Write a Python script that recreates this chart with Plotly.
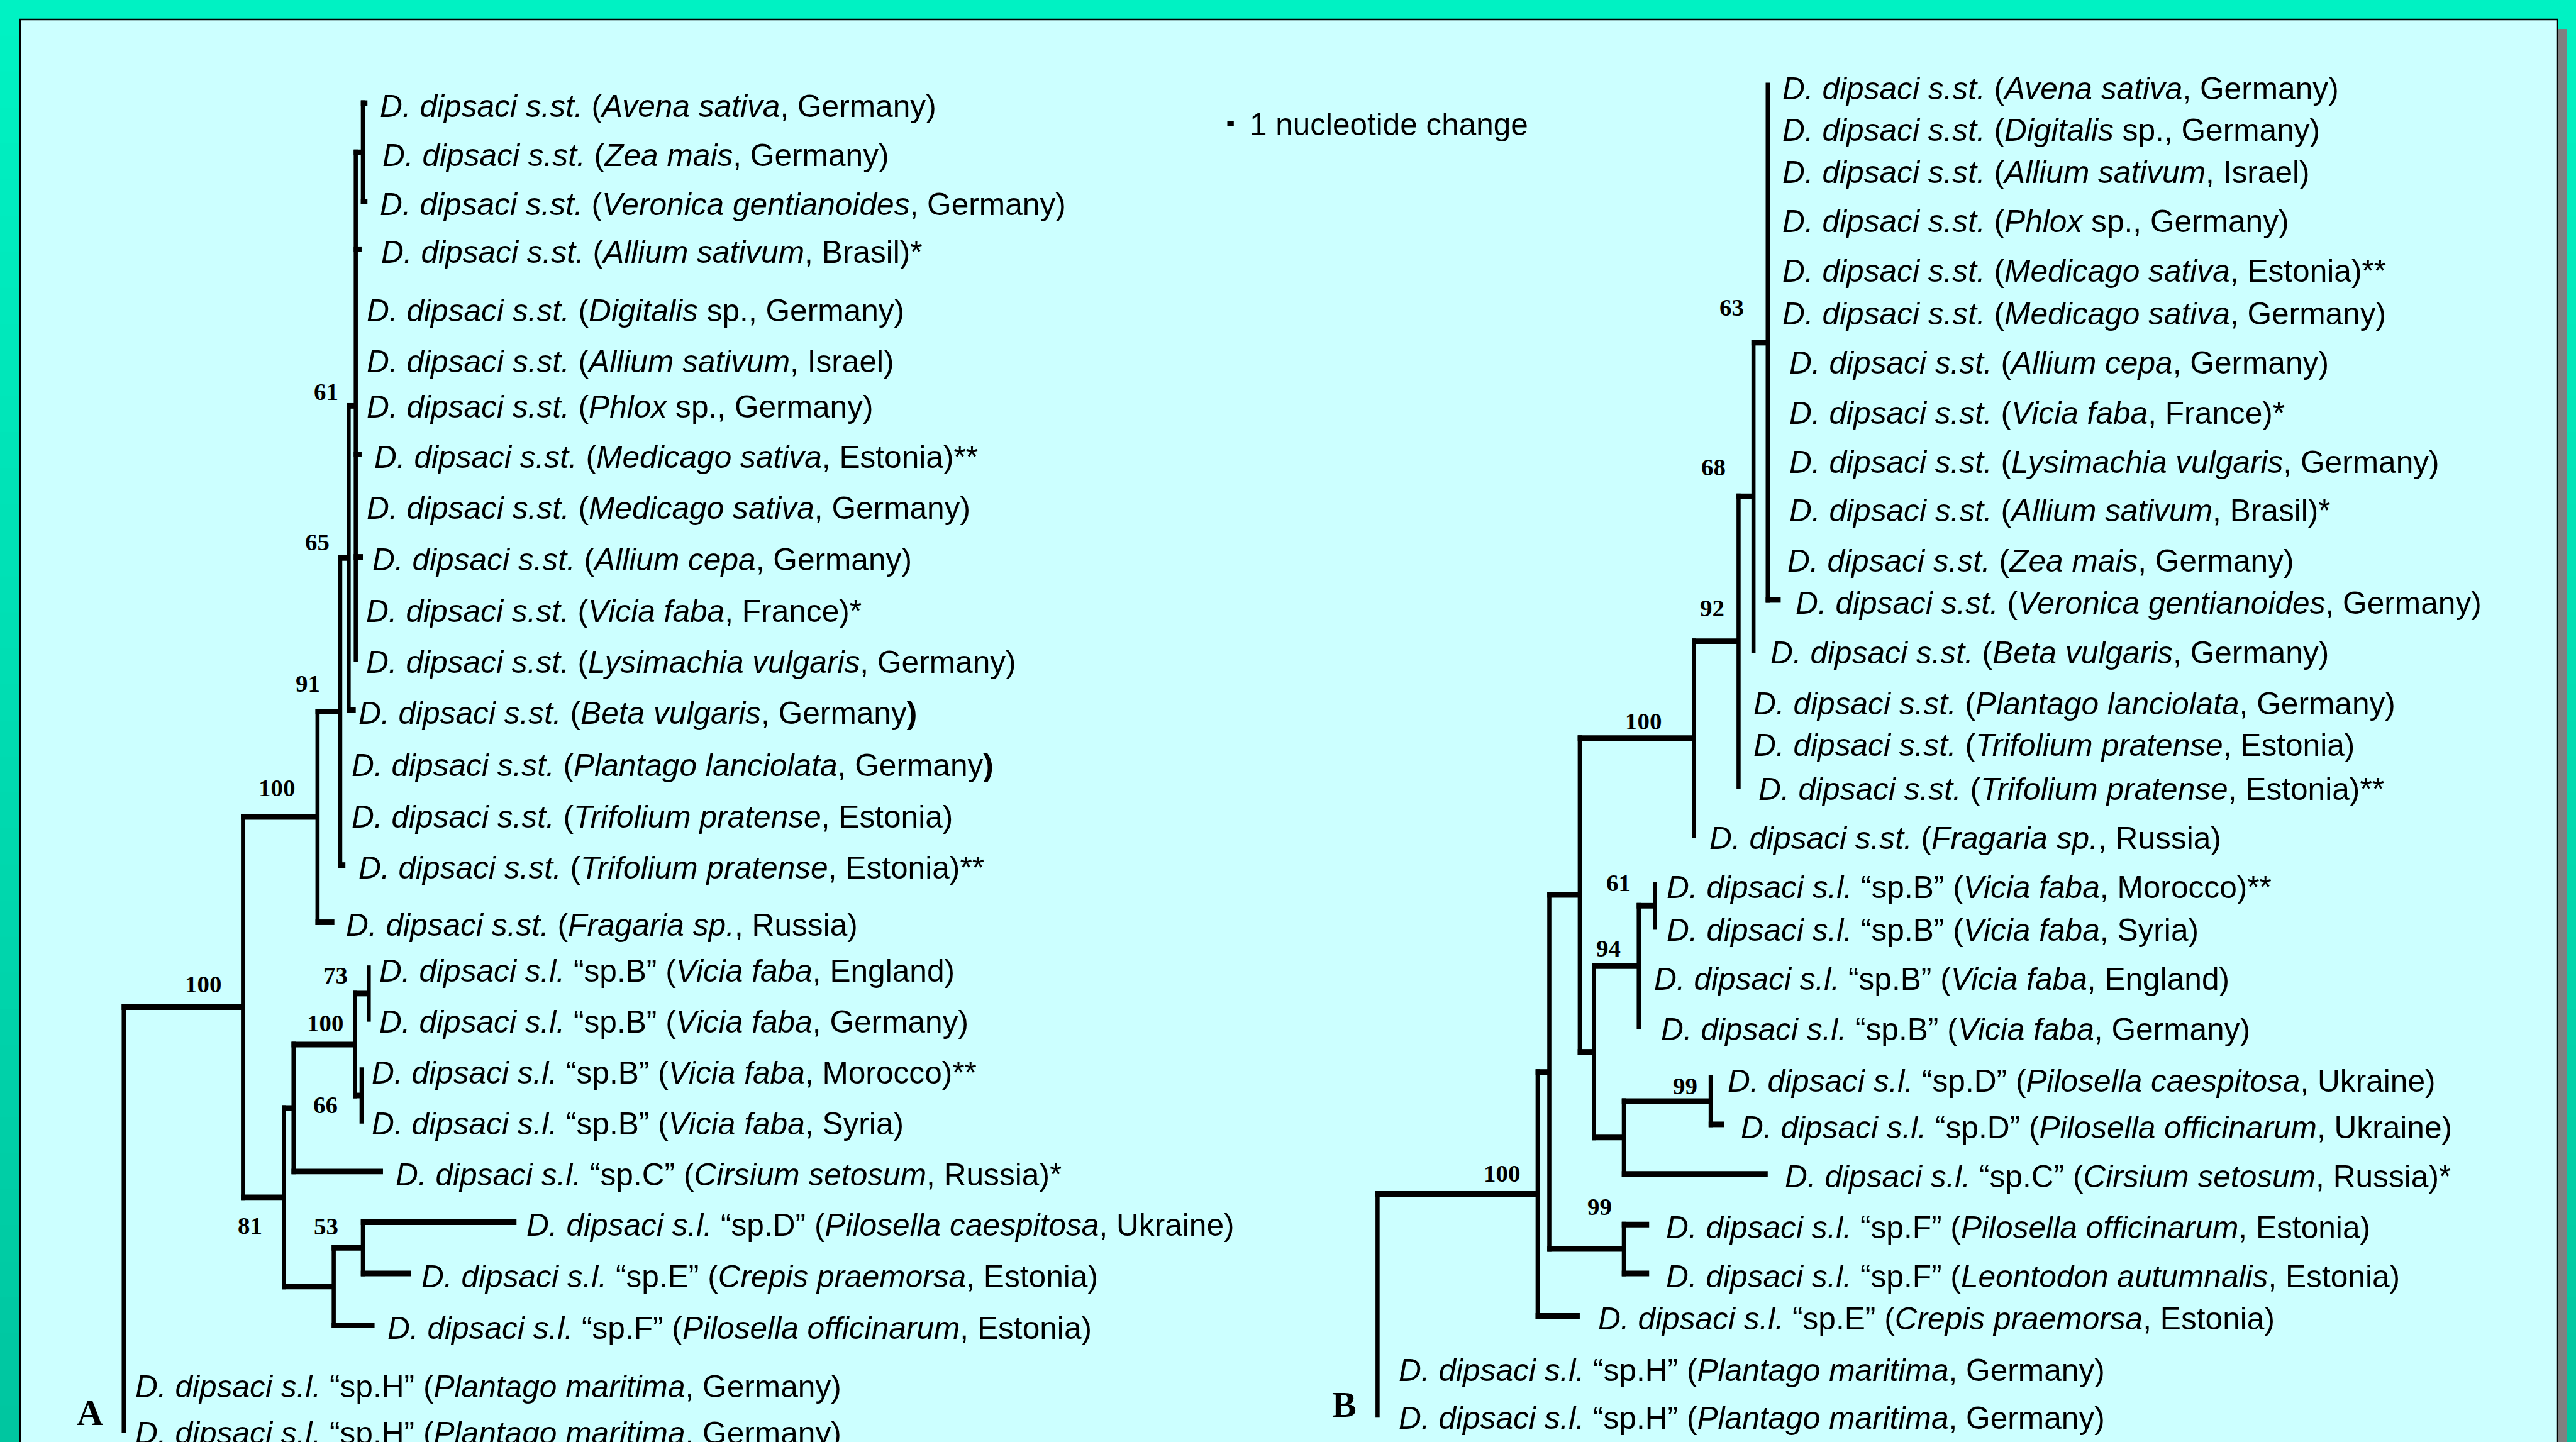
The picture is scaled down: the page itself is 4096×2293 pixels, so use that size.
import plotly.graph_objects as go

# ---------------------------------------------------------------- data
PX_PER_CHANGE = 11.0          # canvas units for one nucleotide change (scale bar)

# ---- Tree A (left panel)
A_group = ["s.st."] * 17 + ["sp.B"] * 4 + ["sp.C", "sp.D", "sp.E", "sp.F", "sp.H", "sp.H"]
A_host = ["<i>Avena sativa</i>", "<i>Zea mais</i>", "<i>Veronica gentianoides</i>",
          "<i>Allium sativum</i>", "<i>Digitalis</i> sp.", "<i>Allium sativum</i>",
          "<i>Phlox</i> sp.", "<i>Medicago sativa</i>", "<i>Medicago sativa</i>",
          "<i>Allium cepa</i>", "<i>Vicia faba</i>", "<i>Lysimachia vulgaris</i>",
          "<i>Beta vulgaris</i>", "<i>Plantago lanciolata</i>", "<i>Trifolium pratense</i>",
          "<i>Trifolium pratense</i>", "<i>Fragaria sp.</i>",
          "<i>Vicia faba</i>", "<i>Vicia faba</i>", "<i>Vicia faba</i>", "<i>Vicia faba</i>",
          "<i>Cirsium setosum</i>", "<i>Pilosella caespitosa</i>", "<i>Crepis praemorsa</i>",
          "<i>Pilosella officinarum</i>", "<i>Plantago maritima</i>", "<i>Plantago maritima</i>"]
A_country = ["Germany", "Germany", "Germany", "Brasil", "Germany", "Israel", "Germany",
             "Estonia", "Germany", "Germany", "France", "Germany", "Germany", "Germany",
             "Estonia", "Estonia", "Russia", "England", "Germany", "Morocco", "Syria",
             "Russia", "Ukraine", "Estonia", "Estonia", "Germany", "Germany"]
A_tail = [")", ")", ")", ")*", ")", ")", ")", ")**", ")", ")", ")*", ")",
          "<b>)</b>", "<b>)</b>", ")", ")**", ")", ")", ")", ")**", ")", ")*",
          ")", ")", ")", ")", ")"]
# terminal branch lengths (nucleotide changes)
A_leaf_branch = [0.7, 0, 0.7, 0.9, 0, 0, 0, 0.9, 0, 1.1, 0, 0, 1.1, 0, 0, 0.8, 2.6,
                 0, 0, 0, 0, 13.8, 23.7, 7.4, 6.3, 0, 0]
# topology: (branch length, bootstrap, children...) ; ints are leaves
A_topology = (0, None,
              (18.4, 100,
               (11.5, 100,
                (3.5, 91,
                 (1.3, 65,
                  (1.1, 61,
                   (1.1, None, 0, 1, 2),
                   3, 4, 5, 6, 7, 8, 9, 10, 11),
                  12),
                 13, 14, 15),
                16),
               (6.3, 81,
                (1.5, None,
                 (9.5, 100, (2.1, 73, 17, 18), (1.0, 66, 19, 20)),
                 21),
                (7.7, None, (4.5, 53, 22, 23), 24))),
              25, 26)

# ---- Tree B (right panel)
B_group = ["s.st."] * 17 + ["sp.B"] * 4 + ["sp.D", "sp.D", "sp.C", "sp.F", "sp.F", "sp.E", "sp.H", "sp.H"]
B_host = ["<i>Avena sativa</i>", "<i>Digitalis</i> sp.", "<i>Allium sativum</i>",
          "<i>Phlox</i> sp.", "<i>Medicago sativa</i>", "<i>Medicago sativa</i>",
          "<i>Allium cepa</i>", "<i>Vicia faba</i>", "<i>Lysimachia vulgaris</i>",
          "<i>Allium sativum</i>", "<i>Zea mais</i>", "<i>Veronica gentianoides</i>",
          "<i>Beta vulgaris</i>", "<i>Plantago lanciolata</i>", "<i>Trifolium pratense</i>",
          "<i>Trifolium pratense</i>", "<i>Fragaria sp.</i>",
          "<i>Vicia faba</i>", "<i>Vicia faba</i>", "<i>Vicia faba</i>", "<i>Vicia faba</i>",
          "<i>Pilosella caespitosa</i>", "<i>Pilosella officinarum</i>", "<i>Cirsium setosum</i>",
          "<i>Pilosella officinarum</i>", "<i>Leontodon autumnalis</i>", "<i>Crepis praemorsa</i>",
          "<i>Plantago maritima</i>", "<i>Plantago maritima</i>"]
B_country = ["Germany", "Germany", "Israel", "Germany", "Estonia", "Germany", "Germany",
             "France", "Germany", "Brasil", "Germany", "Germany", "Germany", "Germany",
             "Estonia", "Estonia", "Russia", "Morocco", "Syria", "England", "Germany",
             "Ukraine", "Ukraine", "Russia", "Estonia", "Estonia", "Estonia", "Germany", "Germany"]
B_tail = [")", ")", ")", ")", ")**", ")", ")", ")*", ")", ")*", ")", ")",
          ")", ")", ")", ")**", ")", ")**", ")", ")", ")", ")", ")", ")*",
          ")", ")", ")", ")", ")"]
B_leaf_branch = [0, 0, 0, 0, 0, 0, 0, 0, 0, 0, 0, 2.0, 0, 0, 0, 0, 0,
                 0, 0, 0, 0, 0, 2.1, 22.2, 3.9, 3.9, 6.5, 0, 0]
B_topology = (0, None,
              (24.7, 100,
               (1.8, None,
                (4.7, None,
                 (17.6, 100,
                  (6.9, 92,
                   (2.3, 68,
                    (2.2, 63, 0, 1, 2, 3, 4, 5, 6, 7, 8, 9, 10, 11),
                    12),
                   13, 14, 15),
                  16),
                 (2.2, None,
                  (6.9, 94, (2.5, 61, 17, 18), 19, 20),
                  (4.6, None, (13.4, 99, 21, 22), 23))),
                (11.5, 99, 24, 25)),
               26),
              27, 28)

SCALE_TEXT = "1 nucleotide change"

# ---------------------------------------------------------------- layout (canvas units = reference px)
S = 4096 / 4372
W, H = 4372, 2447
A_root_x, B_root_x = 210, 2338
A_rows = [175, 259, 342, 423, 522, 609, 685, 771, 857, 945, 1032, 1119, 1205, 1294, 1381,
          1468, 1565, 1643, 1729, 1816, 1902, 1988, 2074, 2161, 2249, 2348, 2427]
B_rows = [145, 216, 287, 371, 455, 528, 611, 696, 779, 862, 947, 1018, 1103, 1189, 1260,
          1334, 1417, 1501, 1573, 1657, 1742, 1829, 1908, 1992, 2078, 2161, 2233, 2320, 2401]
A_label_gap = [19, 31, 19, 31, 16, 16, 16, 19, 16, 14, 15, 15, 3, 17, 17, 20, 17,
               16, 16, 15, 15, 19, 15, 16, 20, 17, 17]
B_label_gap = [23, 23, 23, 23, 23, 23, 34, 34, 34, 34, 31, 23, 27, 23, 23, 32, 24,
               18, 18, 24, 35, 27, 26, 27, 26, 26, 29, 34, 34]
# bootstrap label offsets from node (pre-order of supported nodes)
A_sup_off = [(-68, -39), (-69, -50), (-55, -48), (-53, -27), (-50, -24), (-57, 48),
             (-51, -37), (-56, -31), (-61, 15), (-63, -37)]
B_sup_off = [(-61, -35), (-86, -29), (-45, -57), (-68, -50), (-61, -60), (-51, -31),
             (-62, -39), (-43, -26), (-41, -72)]
LABEL_DY = 5
HW, VW = 9.5, 7          # horizontal / vertical branch widths (canvas units)
SANS = "Liberation Sans, Arial, sans-serif"
SERIF = "Liberation Serif, Times New Roman, serif"
LABEL_SIZE = 53 * S
SUP_SIZE = 41.5 * S


def build(node, xparent, rows, lb, Hs, Vs, tips, sups):
    if isinstance(node, int):
        x = xparent + lb[node] * PX_PER_CHANGE
        tips[node] = x
        return x, rows[node]
    bl, sup, *kids = node
    x = xparent + bl * PX_PER_CHANGE
    idx = None
    if sup is not None:
        idx = len(sups)
        sups.append(None)
    res = [build(k, x, rows, lb, Hs, Vs, tips, sups) for k in kids]
    ys = [r[1] for r in res]
    y = (ys[0] + ys[-1]) / 2
    Vs.append((x, ys[0], ys[-1]))
    for cx, cy in res:
        if cx - x > 0.5:
            Hs.append((x, cx, cy))
    if idx is not None:
        sups[idx] = (x, y, sup)
    return x, y


def label_html(group, host, country, tail):
    if group == "s.st.":
        head = "<i>D. dipsaci s.st.</i>"
    else:
        head = "<i>D. dipsaci s.l.</i> \u201c" + group + "\u201d"
    return head + " (" + host + ", " + country + tail


fig = go.Figure()
annotations = []

# background
shapes = []
NB = 40
for i in range(NB):
    t = i / (NB - 1)
    g = round(242 + (198 - 242) * t)
    b = round(195 + (160 - 195) * t)
    shapes.append(dict(type="rect", xref="x", yref="y", x0=-20, x1=W + 20,
                       y0=H * i / NB - 1, y1=H * (i + 1) / NB + 1,
                       fillcolor=f"rgb(0,{g},{b})", line=dict(width=0), layer="below"))
shapes.append(dict(type="rect", xref="x", yref="y", x0=4340, x1=4357, y0=49, y1=H + 20,
                   fillcolor="#808080", line=dict(width=0), layer="below"))
shapes.append(dict(type="rect", xref="x", yref="y", x0=34, x1=4340, y0=33, y1=H + 20,
                   fillcolor="#CCFFFF", line=dict(color="black", width=2.5), layer="below"))

for topo, root_x, rows, lb, gaps, groups, hosts, countries, tails, offs in [
    (A_topology, A_root_x, A_rows, A_leaf_branch, A_label_gap, A_group, A_host, A_country, A_tail, A_sup_off),
    (B_topology, B_root_x, B_rows, B_leaf_branch, B_label_gap, B_group, B_host, B_country, B_tail, B_sup_off),
]:
    Hs, Vs, tips, sups = [], [], {}, []
    build(topo, root_x, rows, lb, Hs, Vs, tips, sups)
    hx, hy, vx, vy = [], [], [], []
    for x0, x1, y in Hs:
        hx += [x0 - VW / 2, x1, None]
        hy += [y, y, None]
    for x, y0, y1 in Vs:
        vx += [x, x, None]
        vy += [y0 - HW / 2, y1 + HW / 2, None]
    fig.add_trace(go.Scatter(x=hx, y=hy, mode="lines", line=dict(color="black", width=HW * S),
                             hoverinfo="skip", showlegend=False))
    fig.add_trace(go.Scatter(x=vx, y=vy, mode="lines", line=dict(color="black", width=VW * S),
                             hoverinfo="skip", showlegend=False))
    for i in range(len(rows)):
        annotations.append(dict(x=tips[i] + gaps[i], y=rows[i] + LABEL_DY, xref="x", yref="y",
                                text=label_html(groups[i], hosts[i], countries[i], tails[i]),
                                showarrow=False, xanchor="left", yanchor="middle",
                                font=dict(family=SANS, size=LABEL_SIZE, color="black")))
    for (x, y, sup), (dx, dy) in zip(sups, offs):
        annotations.append(dict(x=x + dx, y=y + dy, xref="x", yref="y", text=f"<b>{sup}</b>",
                                showarrow=False, xanchor="center", yanchor="middle",
                                font=dict(family=SERIF, size=SUP_SIZE, color="black")))

# scale bar
bar_x, bar_y = 2083, 210
fig.add_trace(go.Scatter(x=[bar_x, bar_x + PX_PER_CHANGE], y=[bar_y, bar_y], mode="lines",
                         line=dict(color="black", width=9 * S), hoverinfo="skip", showlegend=False))
annotations.append(dict(x=2119, y=bar_y + 1, xref="x", yref="y", text=SCALE_TEXT, showarrow=False,
                        xanchor="left", yanchor="middle",
                        font=dict(family=SANS, size=52.8 * S, color="black")))

# panel letters
for letter, lx, ly in [("A", 153, 2397), ("B", 2281, 2383)]:
    annotations.append(dict(x=lx, y=ly, xref="x", yref="y", text=f"<b>{letter}</b>", showarrow=False,
                            xanchor="center", yanchor="middle",
                            font=dict(family=SERIF, size=62 * S, color="black")))

fig.update_layout(
    width=4096, height=2293, margin=dict(l=0, r=0, t=0, b=0),
    paper_bgcolor="rgb(0,220,178)", plot_bgcolor="rgba(0,0,0,0)",
    xaxis=dict(range=[0, W], visible=False, fixedrange=True),
    yaxis=dict(range=[H, 0], visible=False, fixedrange=True),
    shapes=shapes, annotations=annotations, showlegend=False,
)
fig.write_html("out.html", config={"displayModeBar": False, "staticPlot": True},
               post_script="document.body.style.margin='0';document.body.style.overflow='hidden';")
